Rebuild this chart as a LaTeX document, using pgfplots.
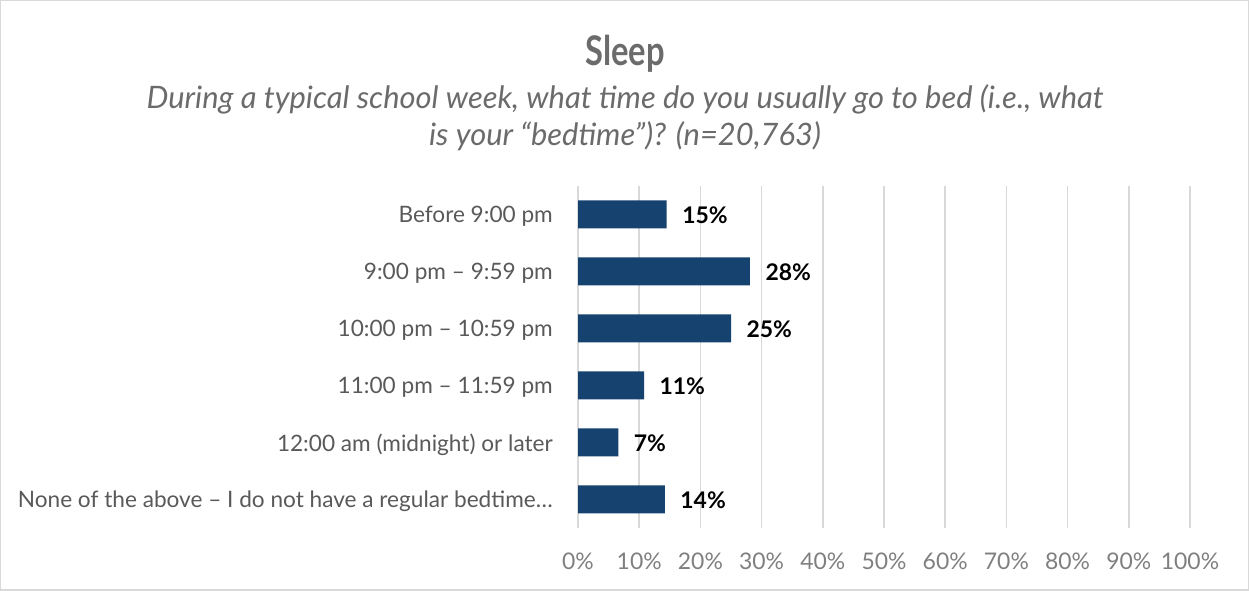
\documentclass[border=0pt]{standalone}
\usepackage{pgfplots}
\pgfplotsset{compat=1.18}
\usepackage{fontspec}
\setmainfont{Lato}
\definecolor{barblue}{HTML}{16426F}
\definecolor{gridgray}{HTML}{D9D9D9}
\definecolor{labelgray}{HTML}{595959}
\definecolor{tickgray}{HTML}{7F7F7F}
\definecolor{titlegray}{HTML}{6B6B6B}
\begin{document}
\begin{tikzpicture}[x=1bp,y=1bp]
\draw[gridgray, line width=1.5bp] (0.75,0.75) rectangle (1248.25,590.25);
\node[text=titlegray] at (625,537)
  {\scalebox{0.8}[1]{\fontsize{41}{48}\selectfont\bfseries Sleep}};
\node[font=\itshape\fontsize{31}{37}\selectfont, text=titlegray, align=center] at (625,473)
  {During a typical school week, what time do you usually go to bed (i.e., what\\is your “bedtime”)? (n=20,763)};
\begin{axis}[
    at={(578bp,63bp)}, anchor=south west,
    scale only axis, width=612bp, height=342bp,
    xbar, bar width=28bp,
    xmin=0, xmax=100, ymin=-0.5, ymax=5.5, y dir=reverse,
    ytick={0,...,5},
    yticklabels={Before 9:00 pm, 9:00 pm – 9:59 pm, 10:00 pm – 10:59 pm,
        11:00 pm – 11:59 pm, 12:00 am (midnight) or later,
        None of the above – I do not have a regular bedtime…},
    xtick={0,10,...,100},
    xticklabel={\pgfmathprintnumber{\tick}\%},
    /pgf/number format/assume math mode=true,
    axis line style={draw=none},
    major tick length=0pt,
    xmajorgrids, grid style={gridgray, line width=1.5bp},
    xticklabel style={font=\fontsize{23}{27}\selectfont, text=tickgray, inner sep=0pt, yshift=-25bp},
    yticklabel style={font=\fontsize{22.7}{27}\selectfont, text=labelgray, inner sep=0pt, xshift=-25bp, yshift=-2bp},
    point meta=explicit,
    nodes near coords={\pgfmathprintnumber{\pgfplotspointmeta}\%},
    nodes near coords style={anchor=west, xshift=12bp, yshift=-1bp, font=\bfseries\fontsize{23}{27}\selectfont, text=black},
]
\addplot[fill=barblue, draw=none] coordinates {
    (14.5,0) [15]
    (28.1,1) [28]
    (25.0,2) [25]
    (10.8,3) [11]
    (6.6,4)  [7]
    (14.2,5) [14]
};
\end{axis}
\end{tikzpicture}
\end{document}
